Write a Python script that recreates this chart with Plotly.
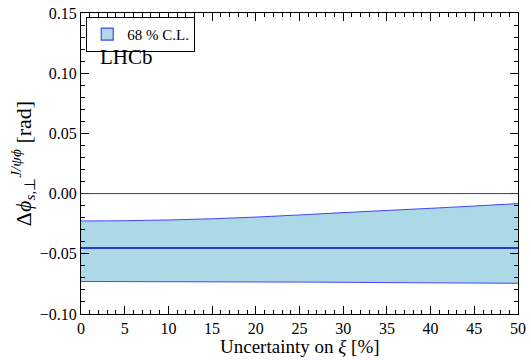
import plotly.graph_objects as go

# uncertainty on xi [%]
xi = [0, 5, 10, 15, 20, 25, 30, 35, 40, 45, 50]
# 68% C.L. band edges and central value [rad]
upper = [-0.0227, -0.0225, -0.0219, -0.0209, -0.0195, -0.0177, -0.0158, -0.0140, -0.0122, -0.0103, -0.0083]
lower = [-0.0730, -0.0731, -0.0732, -0.0733, -0.0734, -0.0735, -0.0737, -0.0739, -0.0741, -0.0743, -0.0745]
central = [-0.0452] * len(xi)

font = "Liberation Serif"
edge = "rgba(0,0,255,0.7)"

fig = go.Figure()

fig.add_trace(go.Scatter(
    x=xi, y=lower, mode="lines", line=dict(color=edge, width=1, shape="spline"),
    showlegend=False, hoverinfo="skip"
))
fig.add_trace(go.Scatter(
    x=xi, y=upper, mode="lines", fill="tonexty", fillcolor="#ADD8E6",
    line=dict(color=edge, width=1, shape="spline"), showlegend=False
))
fig.add_trace(go.Scatter(
    x=xi, y=central, mode="lines", line=dict(color="#0000CC", width=1.5),
    showlegend=False
))
# legend entry drawn as a patch
fig.add_trace(go.Bar(
    x=[None], y=[None], name="68 % C.L.",
    marker=dict(color="#ADD8E6", line=dict(color=edge, width=1.2))
))

fig.add_hline(y=0, line=dict(color="#444444", width=1))

fig.add_annotation(
    x=0.038, y=0.853, xref="paper", yref="paper", text="LHCb", showarrow=False,
    xanchor="left", yanchor="middle", font=dict(family=font, size=21, color="black")
)
# x axis title
fig.add_annotation(
    x=0.5, y=-0.066, xref="paper", yref="paper", text="Uncertainty on <i>ξ</i> [%]",
    showarrow=False, xanchor="center", yanchor="top",
    font=dict(family=font, size=19, color="black")
)

axis_common = dict(
    showgrid=False, zeroline=False, showline=True, linecolor="black", linewidth=1,
    mirror="allticks", ticks="inside", ticklen=8, tickcolor="black", automargin=False,
    tickfont=dict(family=font, size=16, color="black"),
)

fig.update_layout(
    width=531, height=360,
    margin=dict(l=81, r=13, t=13, b=46),
    plot_bgcolor="white", paper_bgcolor="white",
    font=dict(family=font, color="black"),
    xaxis=dict(
        range=[0, 50], dtick=5, tickformat="d",
        minor=dict(ticks="inside", ticklen=4, dtick=1, tickcolor="black"),
        **axis_common
    ),
    yaxis=dict(
        range=[-0.10, 0.15], dtick=0.05, tickformat=".2f",
        minor=dict(ticks="inside", ticklen=4, dtick=0.01, tickcolor="black"),
        title=dict(text="Δ<i>ϕ</i><sub><i>s</i>,⊥</sub><sup><i>J/ψϕ</i></sup> [rad]",
                   font=dict(family=font, size=22), standoff=2),
        **axis_common
    ),
    legend=dict(
        x=0.012, y=0.987, xanchor="left", yanchor="top",
        bordercolor="black", borderwidth=1, bgcolor="white",
        font=dict(family=font, size=15, color="black"),
        itemwidth=30, tracegroupgap=0,
    ),
)

fig.write_html("out.html", config={"displayModeBar": False},
               post_script="document.body.style.margin='0px';")
